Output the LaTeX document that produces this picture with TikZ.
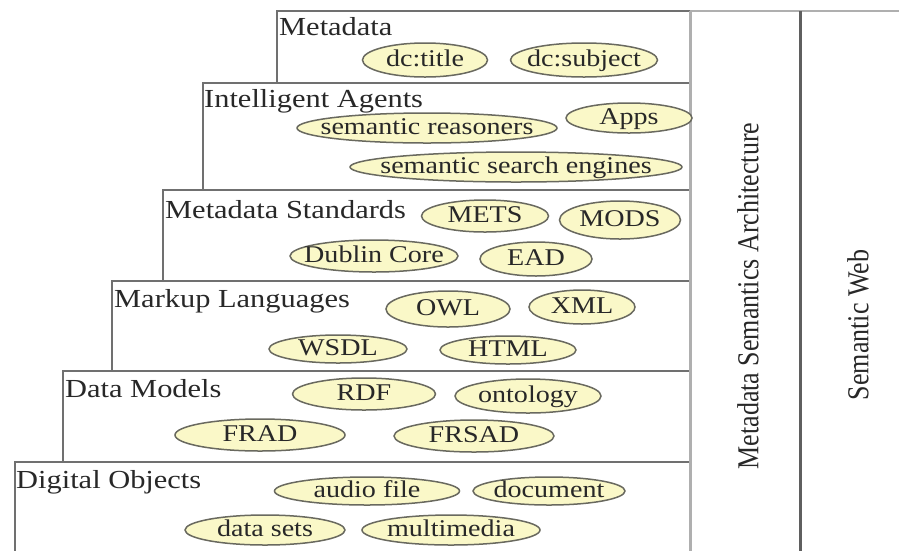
\documentclass[tikz,border=0pt]{standalone}
\usepackage{fontspec}
\setmainfont{Liberation Serif}[FakeStretch=1.17]
\newfontfamily\rotfont{Liberation Serif}
\usetikzlibrary{shapes.geometric}
\definecolor{linegray}{RGB}{112,112,112}
\definecolor{lightline}{RGB}{175,175,175}
\definecolor{darkline}{RGB}{95,95,95}
\definecolor{ellfill}{RGB}{250,248,200}
\definecolor{ellline}{RGB}{105,105,95}
\definecolor{txt}{RGB}{40,40,40}
\newcommand{\tm}[1]{\smash{\makebox[0pt]{\raisebox{-6pt}{#1}}}}
\tikzset{
  layerbox/.style={draw=linegray, line width=1.6pt},
  layerlabel/.style={anchor=base west, inner sep=0pt, text=txt, font=\fontsize{26}{30}\selectfont},
  term/.style={ellipse, draw=ellline, line width=1.5pt, fill=ellfill, inner sep=0pt, text=txt, font=\fontsize{24}{28}\selectfont},
  vlabel/.style={rotate=90, inner sep=0pt, text=txt, font=\rotfont\fontsize{26}{30}\selectfont},
}
\begin{document}
\begin{tikzpicture}[x=1pt,y=-1pt]
\useasboundingbox (0,0) rectangle (899,550);
\clip (0,0) rectangle (899,550);
\fill[white] (0,0) rectangle (899,550);
% layer boxes
\draw[layerbox] (277,11) rectangle (690,83);
\draw[layerbox] (203,83) rectangle (690,190);
\draw[layerbox] (163,190) rectangle (690,281);
\draw[layerbox] (112,281) rectangle (690,371);
\draw[layerbox] (63,371) rectangle (690,462);
\draw[layerbox] (15,462) rectangle (690,560);
% right columns
\draw[lightline, line width=2.5pt] (690,11) -- (899,11);
\draw[lightline, line width=3pt] (690,11) -- (690,560);
\draw[darkline, line width=3pt] (800,11) -- (800,560);
\node[vlabel] (msa) at (748,296) {\scalebox{1}[1.17]{Metadata Semantics Architecture}};
\node[vlabel] (sw) at (858,325) {\scalebox{1}[1.17]{Semantic Web}};
% layer labels
\node[layerlabel] (l1) at (279,35) {Metadata};
\node[layerlabel] (l2) at (204,107) {Intelligent Agents};
\node[layerlabel] (l3) at (165,218) {Metadata Standards};
\node[layerlabel] (l4) at (114,307) {Markup Languages};
\node[layerlabel] (l5) at (65,397) {Data Models};
\node[layerlabel] (l6) at (16,488) {Digital Objects};
% terms
\node[term, minimum width=125pt, minimum height=34pt] (dctitle) at (425,60) {\tm{dc:title}};
\node[term, minimum width=147pt, minimum height=34pt] (dcsubject) at (584,60) {\tm{dc:subject}};
\node[term, minimum width=126pt, minimum height=30pt] (apps) at (629,118) {\tm{Apps}};
\node[term, minimum width=260pt, minimum height=30pt] (reasoners) at (427,128) {\tm{semantic reasoners}};
\node[term, minimum width=332pt, minimum height=30pt] (search) at (516,167) {\tm{semantic search engines}};
\node[term, minimum width=127pt, minimum height=32pt] (mets) at (485,216) {\tm{METS}};
\node[term, minimum width=121pt, minimum height=38pt] (mods) at (620,220) {\tm{MODS}};
\node[term, minimum width=168pt, minimum height=32pt] (dublin) at (374,256) {\tm{Dublin Core}};
\node[term, minimum width=112pt, minimum height=34pt] (ead) at (536,259) {\tm{EAD}};
\node[term, minimum width=124pt, minimum height=36pt] (owl) at (448,309) {\tm{OWL}};
\node[term, minimum width=106pt, minimum height=34pt] (xml) at (582,307) {\tm{XML}};
\node[term, minimum width=138pt, minimum height=28pt] (wsdl) at (338,349) {\tm{WSDL}};
\node[term, minimum width=136pt, minimum height=28pt] (html) at (508,350) {\tm{HTML}};
\node[term, minimum width=143pt, minimum height=32pt] (rdf) at (364,394) {\tm{RDF}};
\node[term, minimum width=146pt, minimum height=34pt] (ontology) at (528,396) {\tm{ontology}};
\node[term, minimum width=170pt, minimum height=32pt] (frad) at (260,435) {\tm{FRAD}};
\node[term, minimum width=160pt, minimum height=32pt] (frsad) at (474,436) {\tm{FRSAD}};
\node[term, minimum width=185pt, minimum height=28pt] (audio) at (367,491) {\tm{audio file}};
\node[term, minimum width=152pt, minimum height=28pt] (document) at (549,491) {\tm{document}};
\node[term, minimum width=160pt, minimum height=30pt] (datasets) at (265,530) {\tm{data sets}};
\node[term, minimum width=178pt, minimum height=30pt] (multimedia) at (451,530) {\tm{multimedia}};
\end{tikzpicture}
\end{document}
